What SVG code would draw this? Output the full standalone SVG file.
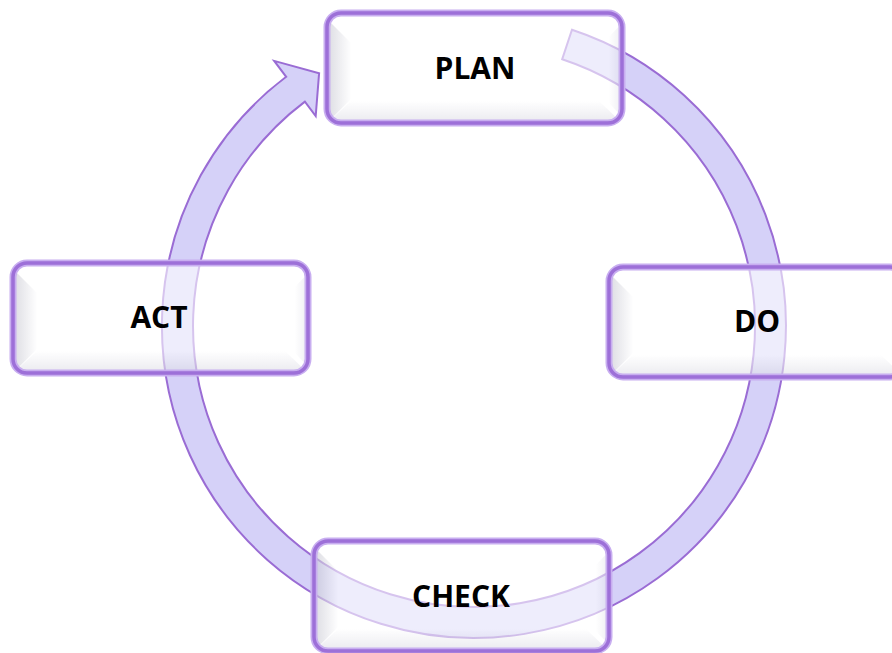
<svg xmlns="http://www.w3.org/2000/svg" xmlns:xlink="http://www.w3.org/1999/xlink" width="892" height="653" viewBox="0 0 892 653">
  <style>
    .ring { fill: #d5d1f8; stroke: #9a6cd4; stroke-width: 2; stroke-linejoin: miter; }
    .label { font-family: "Open Sans", "Liberation Sans", sans-serif; font-weight: 700; font-size: 30px; fill: #000; text-anchor: middle; }
  </style>
  <defs>
    <filter id="soft" x="-5%" y="-5%" width="110%" height="110%">
      <feGaussianBlur stdDeviation="0.7"/>
    </filter>
    <linearGradient id="bevelLeft" x1="0" y1="0" x2="1" y2="0">
      <stop offset="0" stop-color="#c4c4cf"/>
      <stop offset="1" stop-color="#ffffff"/>
    </linearGradient>
    <linearGradient id="bevelBottom" x1="0" y1="0" x2="0" y2="1">
      <stop offset="0" stop-color="#ffffff"/>
      <stop offset="1" stop-color="#dcdce4"/>
    </linearGradient>
    <linearGradient id="bevelRight" x1="0" y1="0" x2="1" y2="0">
      <stop offset="0" stop-color="#ffffff"/>
      <stop offset="1" stop-color="#e2e2ea"/>
    </linearGradient>
    <clipPath id="boxClip">
      <rect x="2" y="2" width="291" height="106" rx="12"/>
    </clipPath>
    <!-- bevelled rounded button, 295 x 110 -->
    <g id="box">
      <g clip-path="url(#boxClip)" opacity="0.6">
        <rect x="0" y="0" width="295" height="110" fill="#ffffff"/>
        <polygon points="0,6 24,30 24,86 0,110" fill="url(#bevelLeft)"/>
        <polygon points="0,110 24,88 272,88 295,110" fill="url(#bevelBottom)"/>
        <polygon points="295,10 282,24 282,90 295,104" fill="url(#bevelRight)"/>
      </g>
      <rect x="0" y="0" width="295" height="110" rx="14" fill="none" stroke="#c8aef0" stroke-width="7" filter="url(#soft)"/>
      <rect x="0" y="0" width="295" height="110" rx="14" fill="none" stroke="#9d6fd8" stroke-width="3.5" filter="url(#soft)"/>
    </g>
  </defs>

  <rect width="892" height="653" fill="#ffffff"/>

  <!-- circular cycle arrow: tail near PLAN, clockwise round to the head at PLAN's left -->
  <g id="connectors">
    <path class="ring" filter="url(#soft)"
          d="M 571.97 29.8 A 312 312 0 1 1 286.2 76.8 L 274.2 60.9 L 319.1 73.2 L 315.7 116 L 304.9 101.6 A 281 281 0 1 0 562.2 59.2 Z"/>
  </g>

  <g id="plan" transform="translate(327,13)">
    <use xlink:href="#box"/>
    <text class="label" x="148" y="66">PLAN</text>
  </g>

  <g id="do" transform="translate(609,267)">
    <use xlink:href="#box"/>
    <text class="label" x="148" y="65">DO</text>
  </g>

  <g id="check" transform="translate(314,541)">
    <use xlink:href="#box"/>
    <text class="label" x="147" y="66">CHECK</text>
  </g>

  <g id="act" transform="translate(13,263)">
    <use xlink:href="#box"/>
    <text class="label" x="146" y="65">ACT</text>
  </g>
</svg>
